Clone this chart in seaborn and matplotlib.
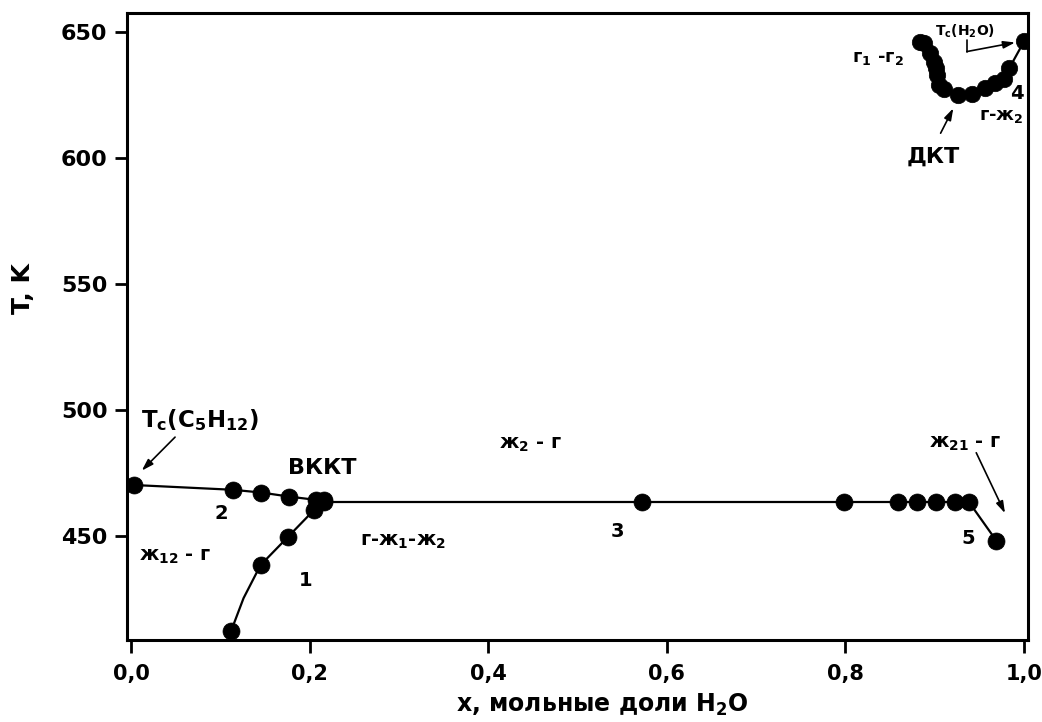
import matplotlib
matplotlib.use("Agg")
import matplotlib.pyplot as plt
import seaborn as sns
import pandas as pd

# Phase diagram of the n-pentane - water system: critical curves and three-phase line
# curve 1: critical line starting from the upper critical endpoint (downwards)
x1_pts = [0.112, 0.145, 0.176, 0.205]
t1_pts = [412.2, 438.4, 449.7, 460.3]
x1_line = [0.112, 0.126, 0.145, 0.176, 0.205, 0.212]
t1_line = [412.2, 425.3, 438.4, 449.7, 460.3, 464.0]

# curve 2: critical line from Tc of pentane to the UCEP
x2 = [0.003, 0.114, 0.146, 0.177, 0.207, 0.216]
t2 = [470.2, 468.3, 467.2, 465.6, 464.3, 464.3]

# curve 3: three-phase line
x3 = [0.216, 0.572, 0.798, 0.859, 0.880, 0.901, 0.923, 0.938]
t3 = [463.6, 463.6, 463.6, 463.6, 463.6, 463.6, 463.6, 463.6]

# curve 5: end of the three-phase line
x5 = [0.938, 0.969]
t5 = [463.6, 448.1]

# curve 4: gas-gas critical line up to Tc of water
x4 = [0.8835, 0.888, 0.895, 0.899, 0.901, 0.903, 0.905, 0.910, 0.926,
      0.942, 0.956, 0.967, 0.978, 0.9835, 1.0]
t4 = [645.8, 645.5, 641.5, 638.2, 635.6, 632.9, 629.0, 627.3, 625.0,
      625.4, 627.7, 629.6, 631.2, 635.6, 646.2]

x_ticks = [0.0, 0.2, 0.4, 0.6, 0.8, 1.0]
x_tick_labels = ["0,0", "0,2", "0,4", "0,6", "0,8", "1,0"]
y_ticks = [450, 500, 550, 600, 650]

sns.set_style("ticks")
plt.rcParams["font.family"] = ["DejaVu Sans"]
plt.rcParams["font.weight"] = "bold"
plt.rcParams["mathtext.fontset"] = "dejavusans"
for key in ["text.color", "axes.labelcolor", "xtick.color", "ytick.color", "axes.edgecolor"]:
    plt.rcParams[key] = "black"

fig = plt.figure(figsize=(10.42, 7.22), dpi=100)
ax = fig.add_axes([0.1219, 0.1136, 0.8647, 0.8684])

line_kw = dict(color="black", linewidth=1.6, sort=False, estimator=None, legend=False)
pt_kw = dict(color="black", s=150, edgecolor="black", linewidth=0.5, legend=False, zorder=3)

sns.lineplot(data=pd.DataFrame({"x": x1_line, "T": t1_line}), x="x", y="T", ax=ax, **line_kw)
sns.lineplot(data=pd.DataFrame({"x": x2, "T": t2}), x="x", y="T", ax=ax, **line_kw)
sns.lineplot(data=pd.DataFrame({"x": x3, "T": t3}), x="x", y="T", ax=ax, **line_kw)
sns.lineplot(data=pd.DataFrame({"x": x5, "T": t5}), x="x", y="T", ax=ax, **line_kw)
sns.lineplot(data=pd.DataFrame({"x": x4, "T": t4}), x="x", y="T", ax=ax, **line_kw)

sns.scatterplot(x=x1_pts, y=t1_pts, ax=ax, **pt_kw)
sns.scatterplot(x=x2, y=t2, ax=ax, **pt_kw)
sns.scatterplot(x=x3, y=t3, ax=ax, **pt_kw)
sns.scatterplot(x=x5[1:], y=t5[1:], ax=ax, **pt_kw)
sns.scatterplot(x=x4, y=t4, ax=ax, s=140, color="black", edgecolor="black",
                linewidth=0.5, legend=False, zorder=3)

ax.set_xlim(-0.0045, 1.0045)
ax.set_ylim(408.7, 657.5)
ax.set_xticks(x_ticks)
ax.set_xticklabels(x_tick_labels)
ax.set_yticks(y_ticks)

for side in ["left", "right", "top", "bottom"]:
    ax.spines[side].set_visible(True)
    ax.spines[side].set_linewidth(2.2)
    ax.spines[side].set_color("black")

ax.tick_params(axis="x", direction="out", length=9, width=2, pad=8, labelsize=15, colors="black")
ax.tick_params(axis="y", direction="out", length=9, width=2, pad=5, labelsize=16, colors="black")
for lab in ax.get_xticklabels() + ax.get_yticklabels():
    lab.set_fontweight("bold")

ax.set_xlabel(r"x, мольные доли H$_\mathbf{2}$O", fontsize=17, fontweight="bold", color="black")
ax.set_ylabel("T, K", fontsize=18, fontweight="bold", color="black")
ax.yaxis.set_label_coords(-0.102, 0.56)
ax.xaxis.set_label_coords(0.528, -0.083)

arrow = dict(arrowstyle="-|>,head_length=0.7,head_width=0.22", color="black", lw=1.2,
             shrinkA=0, shrinkB=0)

# region and curve labels
txt = dict(ha="center", va="center", fontweight="bold", color="black")
ax.text(0.077, 496.0, r"$\mathbf{T_c(C_5H_{12})}$", fontsize=16.5, **txt)
ax.annotate("", xy=(0.012, 475.9), xytext=(0.0493, 489.2), arrowprops=arrow)
ax.text(0.214, 476.9, "ВККТ", fontsize=16, **txt)
ax.text(0.1015, 459.0, "2", fontsize=14, **txt)
ax.text(0.195, 432.5, "1", fontsize=14, **txt)
ax.text(0.545, 451.7, "3", fontsize=14, **txt)
ax.text(0.9376, 449.0, "5", fontsize=14, **txt)
ax.text(0.049, 441.8, r"ж$_\mathbf{12}$ - г", fontsize=14, **txt)
ax.text(0.305, 447.7, r"г-ж$_\mathbf{1}$-ж$_\mathbf{2}$", fontsize=14, **txt)
ax.text(0.447, 486.1, r"ж$_\mathbf{2}$ - г", fontsize=14, **txt)
ax.text(0.934, 486.8, r"ж$_\mathbf{21}$ - г", fontsize=14, **txt)
ax.annotate("", xy=(0.9787, 459.0), xytext=(0.9465, 483.0), arrowprops=arrow)

ax.text(0.836, 639.7, r"г$_\mathbf{1}$ -г$_\mathbf{2}$", fontsize=13, **txt)
ax.text(0.992, 625.7, "4", fontsize=14, **txt)
ax.text(0.975, 616.7, r"г-ж$_\mathbf{2}$", fontsize=13, **txt)
ax.text(0.898, 600.4, "ДКТ", fontsize=16, **txt)
ax.annotate("", xy=(0.9208, 619.7), xytext=(0.9066, 609.8), arrowprops=arrow)
ax.text(0.934, 650.4, r"$\mathbf{T_c(H_2O)}$", fontsize=10, **txt)
ax.plot([0.936, 0.936], [646.8, 642.2], color="black", lw=1.2)
ax.annotate("", xy=(0.990, 645.8), xytext=(0.936, 642.2), arrowprops=arrow)

fig.savefig("out.png", dpi=100)
